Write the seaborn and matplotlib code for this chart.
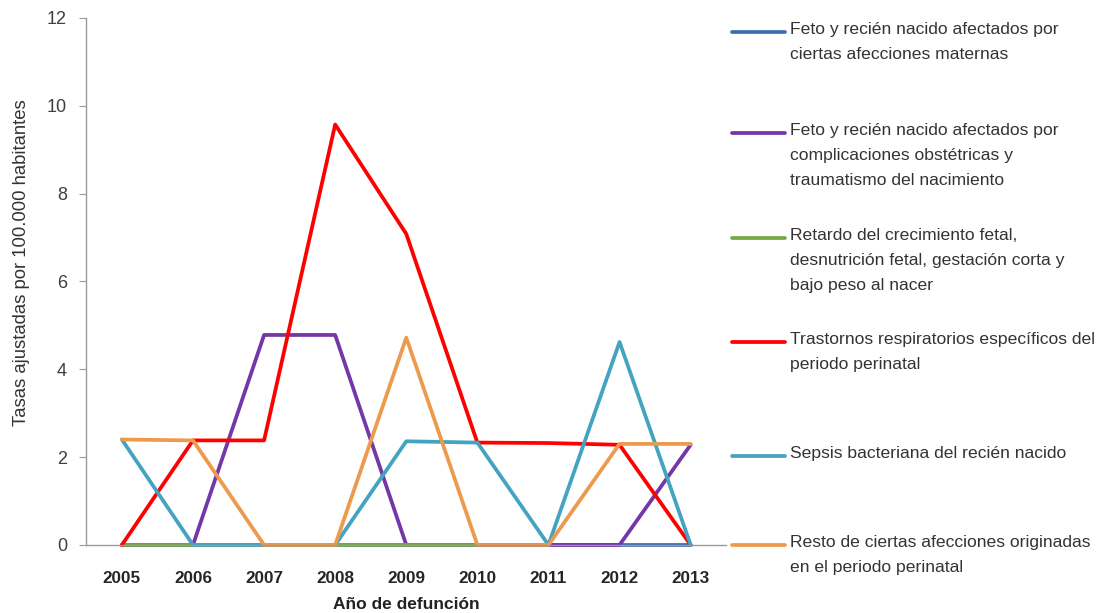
import matplotlib.pyplot as plt
import matplotlib.lines as mlines
import seaborn as sb
import pandas as pd
import numpy as np

anios = ['2005', '2006', '2007', '2008', '2009', '2010', '2011', '2012', '2013']

maternas = [0, 0, 0, 0, 0, 0, 0, 0, 0]
obstetricas = [0, 0, 4.78, 4.78, 0, 0, 0, 0, 2.28]
retardo = [0, 0, 0, 0, 0, 0, np.nan, np.nan, np.nan]
respiratorios = [0, 2.38, 2.38, 9.57, 7.08, 2.33, 2.32, 2.28, 0]
sepsis = [2.40, 0, 0, 0, 2.36, 2.33, 0, 4.62, 0]
resto = [2.40, 2.38, 0, 0, 4.72, 0, 0, 2.30, 2.30]

nombres = [
    'Feto y recién nacido afectados por\nciertas afecciones maternas',
    'Feto y recién nacido afectados por\ncomplicaciones obstétricas y\ntraumatismo del nacimiento',
    'Retardo del crecimiento fetal,\ndesnutrición fetal, gestación corta y\nbajo peso al nacer',
    'Trastornos respiratorios específicos del\nperiodo perinatal',
    'Sepsis bacteriana del recién nacido',
    'Resto de ciertas afecciones originadas\nen el periodo perinatal',
]
colores = ['#3D6DB4', '#7436A8', '#77A84A', '#FF0000', '#43A3C0', '#EE9A4D']

series = [maternas, obstetricas, retardo, respiratorios, sepsis, resto]
df = pd.concat([
    pd.DataFrame({'anio': np.arange(len(anios)), 'tasa': vals, 'causa': nom})
    for nom, vals in zip(nombres, series)
], ignore_index=True)

sb.set_style("white")
plt.rcParams['font.family'] = ['Liberation Sans', 'DejaVu Sans']

fig = plt.figure(figsize=(11.07, 6.13), dpi=100)
ax = fig.add_axes([0.078, 0.111, 0.578, 0.86])

sb.lineplot(data=df, x='anio', y='tasa', hue='causa', hue_order=nombres,
            palette=dict(zip(nombres, colores)), linewidth=2.7, legend=False,
            ax=ax, sort=False)
for ln in ax.lines:
    ln.set_clip_on(False)

ax.set_xlim(-0.5, len(anios) - 0.5)
ax.set_ylim(0, 12)
ax.set_yticks(range(0, 13, 2))
ax.set_yticklabels([str(v) for v in range(0, 13, 2)], fontsize=13, color='#404040')
ax.set_xticks(np.arange(len(anios)))
ax.set_xticklabels(anios, fontsize=12.3, fontweight='bold')
ax.set_xticks(np.arange(len(anios) + 1) - 0.5, minor=True)
ax.tick_params(axis='x', which='major', length=0, pad=19)
ax.tick_params(axis='x', which='minor', length=5, color='#999999', direction='out')
ax.tick_params(axis='y', length=5, color='#999999', direction='out', left=True, pad=9)
for s in ['top', 'right']:
    ax.spines[s].set_visible(False)
for s in ['left', 'bottom']:
    ax.spines[s].set_color('#999999')
    ax.spines[s].set_linewidth(1)
ax.set_xlabel('Año de defunción', fontsize=12.5, fontweight='bold', color='#222222', labelpad=8)
ax.set_ylabel('Tasas ajustadas por 100.000 habitantes', fontsize=13.3, color='#333333')
ax.yaxis.set_label_coords(-0.088, 0.535)

# leyenda manual, alineada como en el original
ley_y = [32, 133, 238, 342, 456, 545]
W, H = 1107, 613
for nom, col, yp in zip(nombres, colores, ley_y):
    yf = 1 - yp / H
    fig.add_artist(mlines.Line2D([732 / W, 785 / W], [yf, yf], color=col, linewidth=2.7))
    fig.text(790 / W, 1 - (yp - 10) / H, nom, fontsize=12.6, va='top', ha='left',
             color='#333333', linespacing=1.84)

plt.savefig('out.png', dpi=100)
